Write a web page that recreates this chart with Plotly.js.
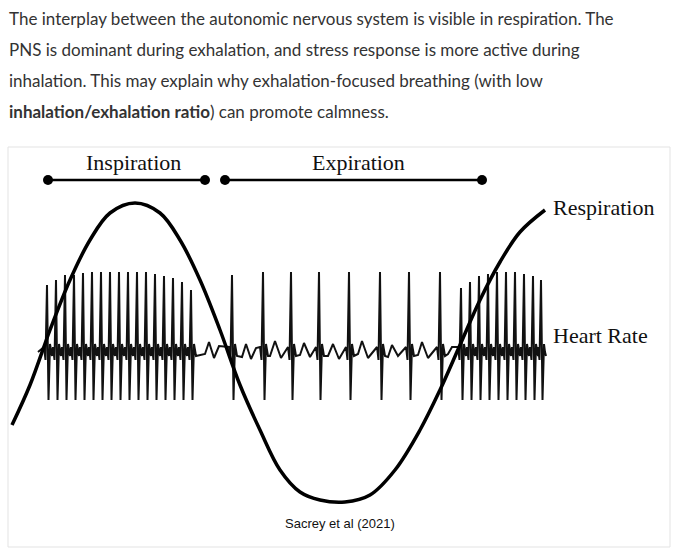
<!DOCTYPE html>
<html><head><script src="https://cdn.plot.ly/plotly-3.0.1.min.js"></script>
<style>body{margin:0}</style></head><body><div id="g" style="width:681px;height:555px"></div>
<script>
// Respiration curve (page pixel coordinates)
const respX = [12,30,50,70,90,110,135,160,180,200,220,240,260,280,300,320,345,370,395,420,440,460,480,500,520,545];
const respY = [425,385,330,280,240,213,203,213,240,280,330,385,430,470,492,500,502,495,470,430,390,345,300,262,232,210];
// Heart-rate R-spike positions
const spikeX = [47,56,65,74,83,92,101,110,119,128,137,146,155,164,173,182,191,
                232,263,291,319,349,380,409,440,
                461,470,479,488,497,506,515,524,533,541];
const spikeTop = [285,280,275,275,273,272,272,272,272,272,272,272,274,276,278,282,290,
                  275,272,272,272,272,272,272,272,
                  288,282,276,274,272,272,272,274,276,280];
const baseY = 352;
const hx=[38], hy=[baseY];
spikeX.forEach((x,i)=>{
  hx.push(x-3,x-1.5,x,x+1.5,x+3,x+5);
  hy.push(baseY-5,baseY+8,spikeTop[i],baseY+48,baseY-8,baseY+4);
});
hx.push(545); hy.push(baseY);
// Wiggles between sparse spikes
const wigX=[205,209,214,219,242,246,251,256,270,275,281,300,304,310,328,333,339,358,362,368,388,392,398,418,422,428,448,452];
const wigY=[354,342,358,346,357,344,359,348,356,341,358,355,343,357,356,344,359,354,341,358,357,345,356,355,342,358,354,347];
const allPts = hx.map((x,i)=>[x,hy[i]]).concat(wigX.map((x,i)=>[x,wigY[i]])).sort((a,b)=>a[0]-b[0]);
const phaseX = [[48,205],[225,482]];
const phaseY = 180;
const phaseLabels = ["Inspiration","Expiration"];

const traces = [
 {x:allPts.map(p=>p[0]),y:allPts.map(p=>p[1]),mode:'lines',line:{color:'#111',width:2},hoverinfo:'skip'},
 {x:respX,y:respY,mode:'lines',line:{color:'#000',width:3.5,shape:'spline'},hoverinfo:'skip'},
];
phaseX.forEach(p=>traces.push({x:p,y:[phaseY,phaseY],mode:'lines+markers',line:{color:'#000',width:2.5},marker:{size:10,color:'#000'},hoverinfo:'skip'}));

const serif = {family:'Liberation Serif, Times New Roman, serif',size:22,color:'#111'};
const para = {family:'Lato, sans-serif',size:17,color:'#333'};
const lines = ["The interplay between the autonomic nervous system is visible in respiration. The",
 "PNS is dominant during exhalation, and stress response is more active during",
 "inhalation. This may explain why exhalation-focused breathing (with low",
 "<b>inhalation/exhalation ratio</b>) can promote calmness."];
const ann = lines.map((t,i)=>({x:7,y:18+i*31,text:t,showarrow:false,xanchor:'left',yanchor:'middle',font:para}));
ann.push({x:133,y:162,text:phaseLabels[0],showarrow:false,font:serif});
ann.push({x:358,y:162,text:phaseLabels[1],showarrow:false,font:serif});
ann.push({x:551,y:207,text:"Respiration",showarrow:false,xanchor:'left',font:serif});
ann.push({x:551,y:335,text:"Heart Rate",showarrow:false,xanchor:'left',font:serif});
ann.push({x:340,y:523,text:"Sacrey et al (2021)",showarrow:false,font:{family:'Liberation Sans, Arial',size:13,color:'#111'}});

Plotly.newPlot('g',traces,{
 width:681,height:555,margin:{l:0,r:0,t:0,b:0},showlegend:false,
 paper_bgcolor:'#fff',plot_bgcolor:'#fff',
 xaxis:{range:[0,681],visible:false,fixedrange:true},
 yaxis:{range:[555,0],visible:false,fixedrange:true},
 shapes:[{type:'rect',x0:8,x1:670,y0:147,y1:547,line:{color:'#e3e3e3',width:1}}],
 annotations:ann
},{staticPlot:true});
</script></body></html>
